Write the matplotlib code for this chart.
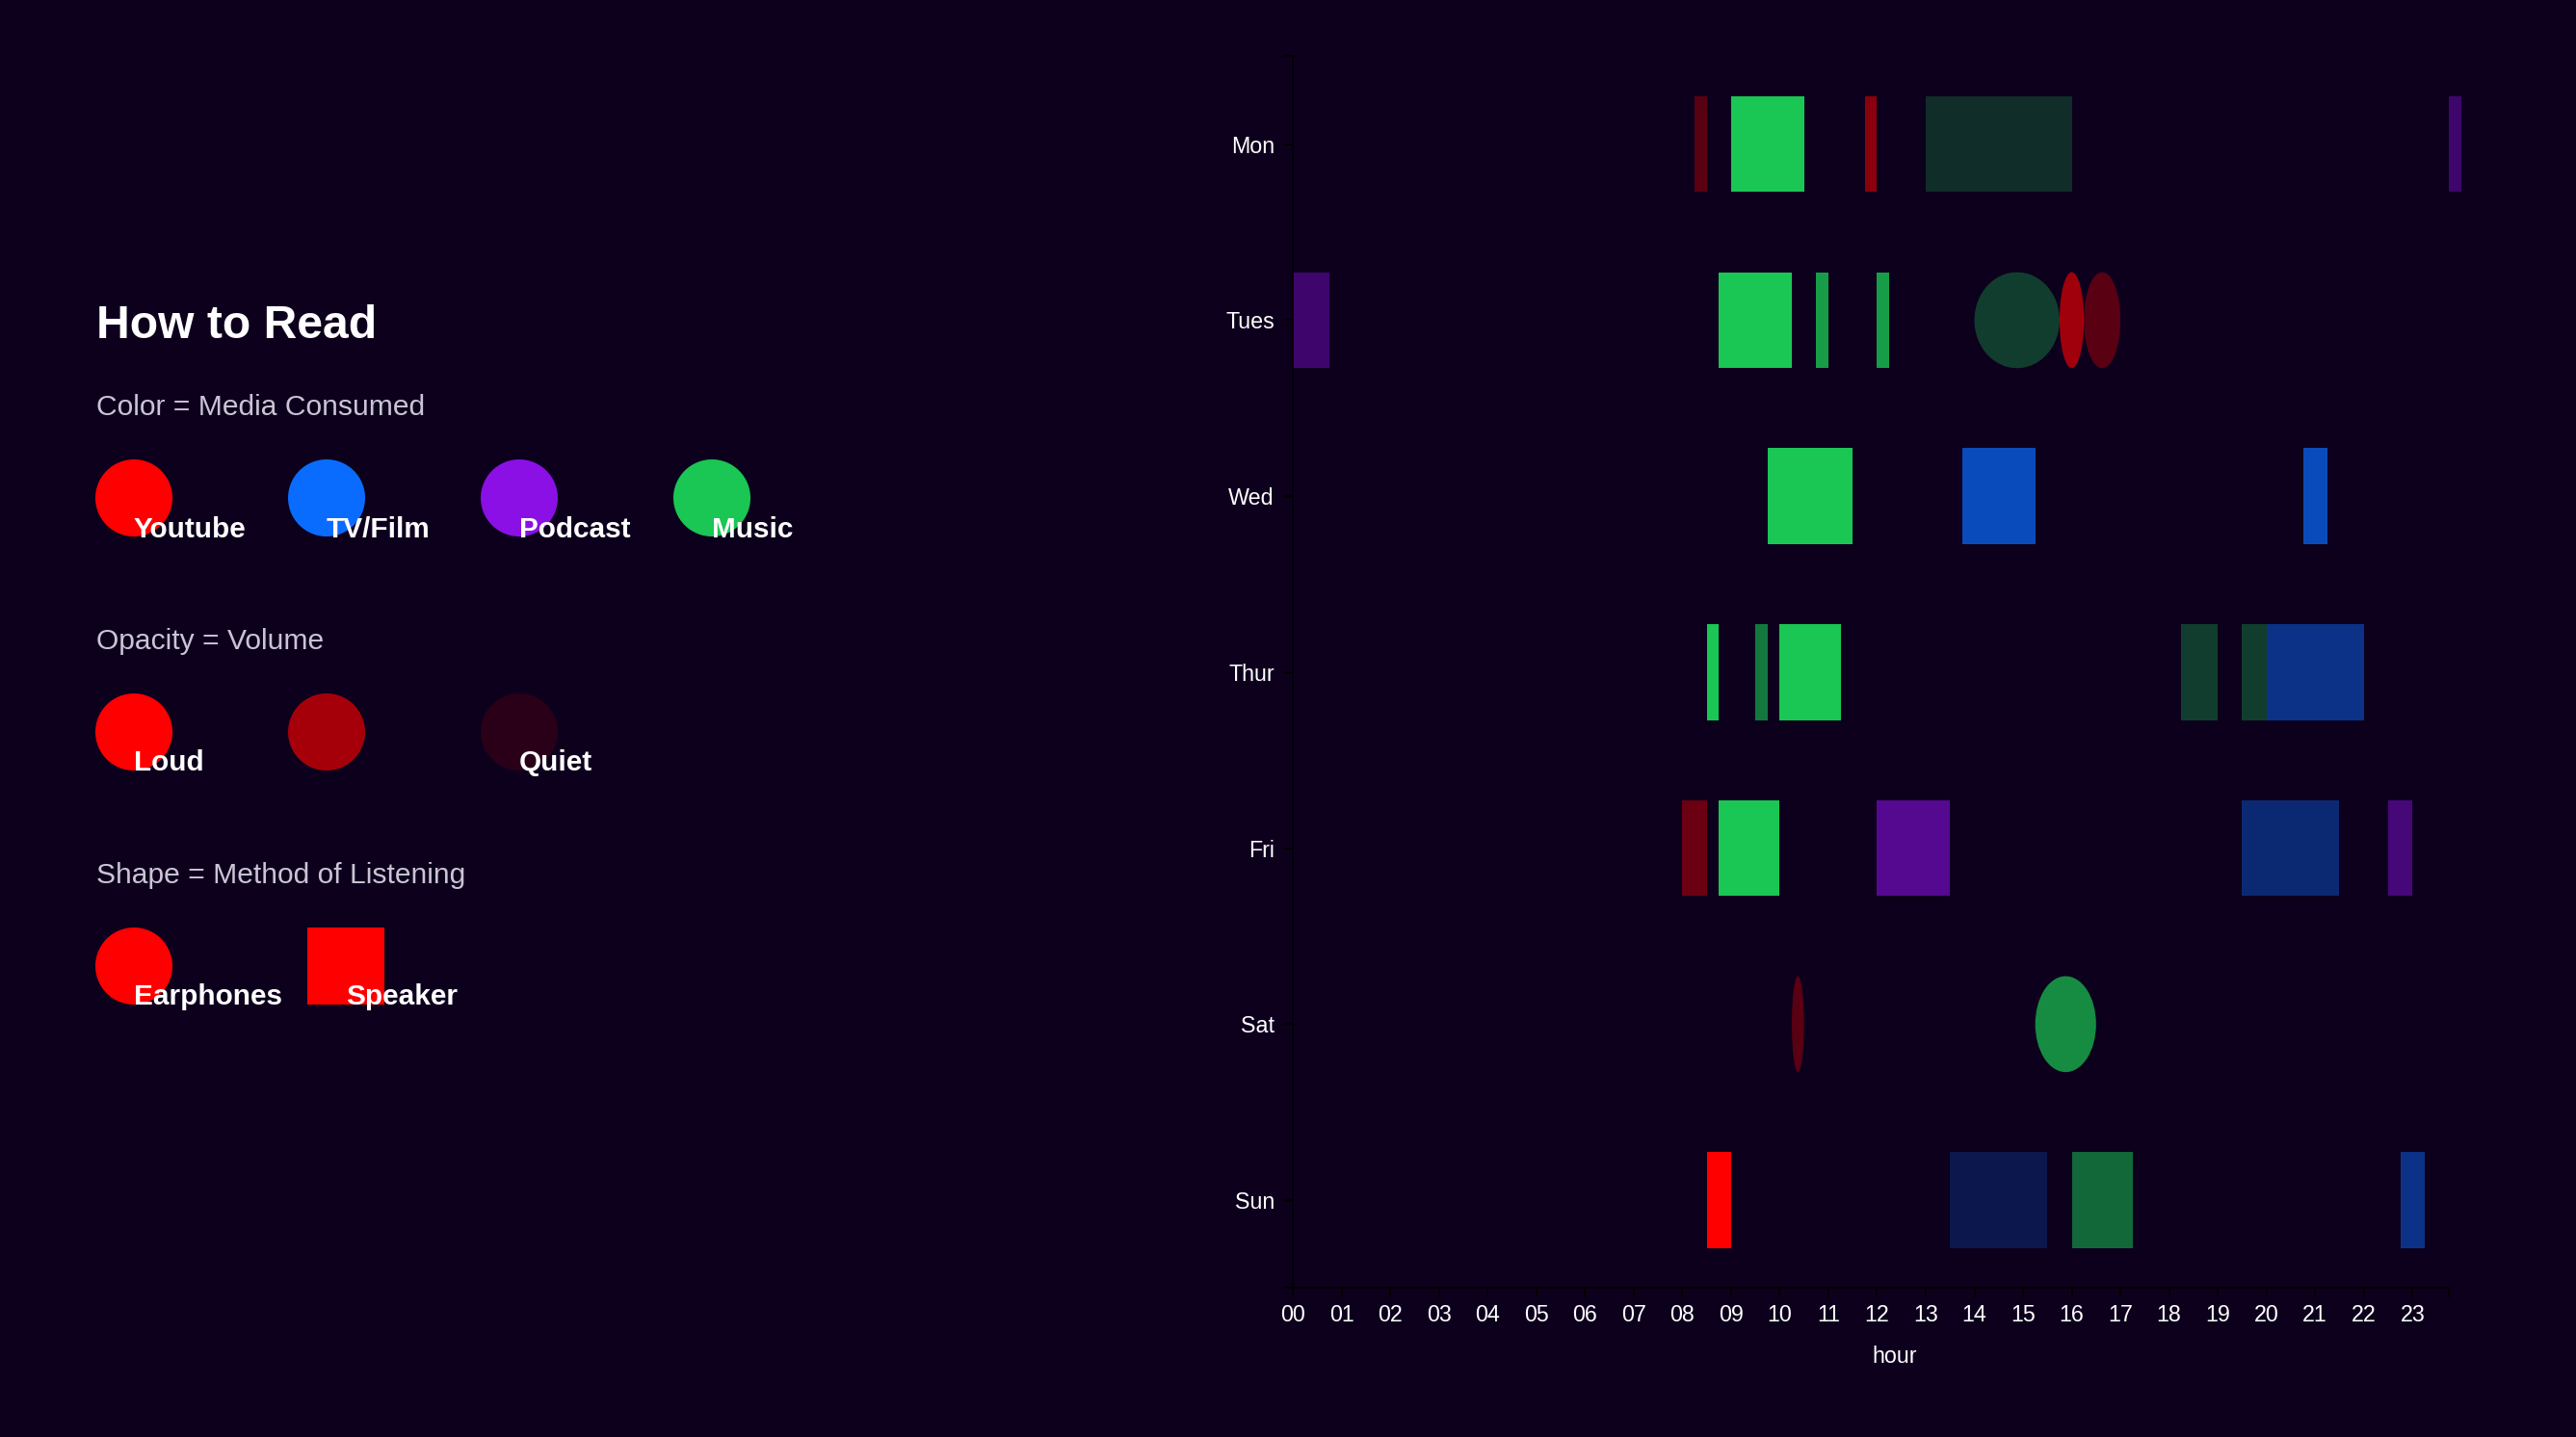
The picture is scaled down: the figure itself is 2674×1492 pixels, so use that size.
import matplotlib
matplotlib.use('Agg')
import matplotlib.pyplot as plt
from matplotlib.patches import Rectangle, Ellipse, Circle

plt.rcParams['font.family'] = ['Liberation Sans', 'DejaVu Sans']

BG = '#0d001d'

# ---------------- data ----------------
days = ['Mon', 'Tues', 'Wed', 'Thur', 'Fri', 'Sat', 'Sun']
hour_ticks = list(range(24))
hour_labels = [f'{h:02d}' for h in hour_ticks]

media_names = ['Youtube', 'TV/Film', 'Podcast', 'Music']
media_colors = ['#ff0000', '#0a6cff', '#8a10e6', '#1ac654']

volume_demo = [1.0, 0.63, 0.12]
volume_labels = ['Loud', '', 'Quiet']
method_names = ['Earphones', 'Speaker']

sess_day = ['Mon', 'Mon', 'Mon', 'Mon', 'Mon',
            'Tues', 'Tues', 'Tues', 'Tues', 'Tues', 'Tues', 'Tues',
            'Wed', 'Wed', 'Wed',
            'Thur', 'Thur', 'Thur', 'Thur', 'Thur', 'Thur',
            'Fri', 'Fri', 'Fri', 'Fri', 'Fri',
            'Sat', 'Sat',
            'Sun', 'Sun', 'Sun', 'Sun']
sess_start = [8.25, 9.0, 11.75, 13.0, 23.75,
              0.0, 8.75, 10.75, 12.0, 14.0, 15.75, 16.25,
              9.75, 13.75, 20.75,
              8.5, 9.5, 10.0, 18.25, 19.5, 20.0,
              8.0, 8.75, 12.0, 19.5, 22.5,
              10.25, 15.25,
              8.5, 13.5, 16.0, 22.75]
sess_end = [8.5, 10.5, 12.0, 16.0, 24.0,
            0.75, 10.25, 11.0, 12.25, 15.75, 16.25, 17.0,
            11.5, 15.25, 21.25,
            8.75, 9.75, 11.25, 19.0, 20.0, 22.0,
            8.5, 10.0, 13.5, 21.5, 23.0,
            10.5, 16.5,
            9.0, 15.5, 17.25, 23.25]
sess_media = ['Youtube', 'Music', 'Youtube', 'Music', 'Podcast',
              'Podcast', 'Music', 'Music', 'Music', 'Music', 'Youtube', 'Youtube',
              'Music', 'TV/Film', 'TV/Film',
              'Music', 'Music', 'Music', 'Music', 'Music', 'TV/Film',
              'Youtube', 'Music', 'Podcast', 'TV/Film', 'Podcast',
              'Youtube', 'Music',
              'Youtube', 'TV/Film', 'Music', 'TV/Film']
sess_volume = [0.32, 1.0, 0.52, 0.23, 0.40,
               0.40, 1.0, 0.80, 0.80, 0.31, 0.61, 0.32,
               1.0, 0.70, 0.70,
               1.0, 0.61, 1.0, 0.31, 0.31, 0.47,
               0.39, 1.0, 0.58, 0.38, 0.46,
               0.32, 0.71,
               1.0, 0.22, 0.53, 0.47]
sess_method = ['Speaker', 'Speaker', 'Speaker', 'Speaker', 'Speaker',
               'Speaker', 'Speaker', 'Speaker', 'Speaker', 'Earphones', 'Earphones', 'Earphones',
               'Speaker', 'Speaker', 'Speaker',
               'Speaker', 'Speaker', 'Speaker', 'Speaker', 'Speaker', 'Speaker',
               'Speaker', 'Speaker', 'Speaker', 'Speaker', 'Speaker',
               'Earphones', 'Earphones',
               'Speaker', 'Speaker', 'Speaker', 'Speaker']

# ---------------- figure ----------------
fig = plt.figure(figsize=(13.37, 7.46), dpi=200, facecolor=BG)

# chart axes
ax = fig.add_axes([0.5019, 0.1036, 0.4488, 0.8573])
ax.set_facecolor('none')
X_MAX = 23.75
ax.set_xlim(0, X_MAX)
ax.set_ylim(len(days) - 0.5, -0.5)

BAR_H = 0.545
media_color = dict(zip(media_names, media_colors))
for d, s, e, m, v, meth in zip(sess_day, sess_start, sess_end, sess_media,
                               sess_volume, sess_method):
    yi = days.index(d)
    col = media_color[m]
    if meth == 'Speaker':
        p = Rectangle((s, yi - BAR_H / 2), e - s, BAR_H,
                      facecolor=col, alpha=v, linewidth=0)
    else:
        p = Ellipse(((s + e) / 2, yi), e - s, BAR_H,
                    facecolor=col, alpha=v, linewidth=0)
    p.set_clip_on(False)
    ax.add_patch(p)

for sp in ['top', 'right']:
    ax.spines[sp].set_visible(False)
for sp in ['left', 'bottom']:
    ax.spines[sp].set_color('black')
    ax.spines[sp].set_linewidth(0.6)

ax.set_xticks(hour_ticks)
ax.set_xticklabels(hour_labels)
ax.set_yticks(range(len(days)))
ax.set_yticklabels(days)
ax.set_xticks([X_MAX], minor=True)
ax.set_yticks([-0.5, len(days) - 0.5], minor=True)
ax.tick_params(which='both', length=3.6, width=0.6, color='black',
               labelcolor='white', labelsize=8.4)
ax.tick_params(axis='y', which='both', pad=3.3)
ax.tick_params(axis='x', which='both', pad=2.4)
ax.set_xlabel('hour', color='white', fontsize=8.4)
ax.xaxis.set_label_coords(0.52, -0.0555)
ax.xaxis.label.set_va('center')

# legend overlay in pixel coordinates
lg = fig.add_axes([0, 0, 1, 1])
lg.set_xlim(0, 2674)
lg.set_ylim(1492, 0)
lg.axis('off')

HEAD_C = '#cac4d4'
HEAD_FS = 10.8
LAB_FS = 10.7
R = 40
lg.text(100, 351, 'How to Read', color='white', fontsize=17.3,
        fontweight='bold', va='baseline', ha='left')

lg.text(100, 431, 'Color = Media Consumed', color=HEAD_C, fontsize=HEAD_FS,
        va='baseline', ha='left')
for i, (name, col) in enumerate(zip(media_names, media_colors)):
    cx = 139 + 200 * i
    lg.add_patch(Circle((cx, 517), R, facecolor=col, linewidth=0))
    lg.text(cx, 558, name, color='white', fontsize=LAB_FS, fontweight='bold',
            va='baseline', ha='left')

lg.text(100, 674, 'Opacity = Volume', color=HEAD_C, fontsize=HEAD_FS,
        va='baseline', ha='left')
for i, (v, lab) in enumerate(zip(volume_demo, volume_labels)):
    cx = 139 + 200 * i
    lg.add_patch(Circle((cx, 760), R, facecolor=media_colors[0], alpha=v,
                        linewidth=0))
    if lab:
        lg.text(cx, 800, lab, color='white', fontsize=LAB_FS, fontweight='bold',
                va='baseline', ha='left')

lg.text(100, 917, 'Shape = Method of Listening', color=HEAD_C, fontsize=HEAD_FS,
        va='baseline', ha='left')
for i, meth in enumerate(method_names):
    cx = 139 + 220 * i
    if meth == 'Earphones':
        lg.add_patch(Circle((cx, 1003), R, facecolor=media_colors[0],
                            linewidth=0))
    else:
        lg.add_patch(Rectangle((cx - R, 1003 - R), 2 * R, 2 * R,
                               facecolor=media_colors[0], linewidth=0))
    lg.text(cx, 1043, meth, color='white', fontsize=LAB_FS, fontweight='bold',
            va='baseline', ha='left')

fig.savefig('out.png', dpi=200, facecolor=BG)
